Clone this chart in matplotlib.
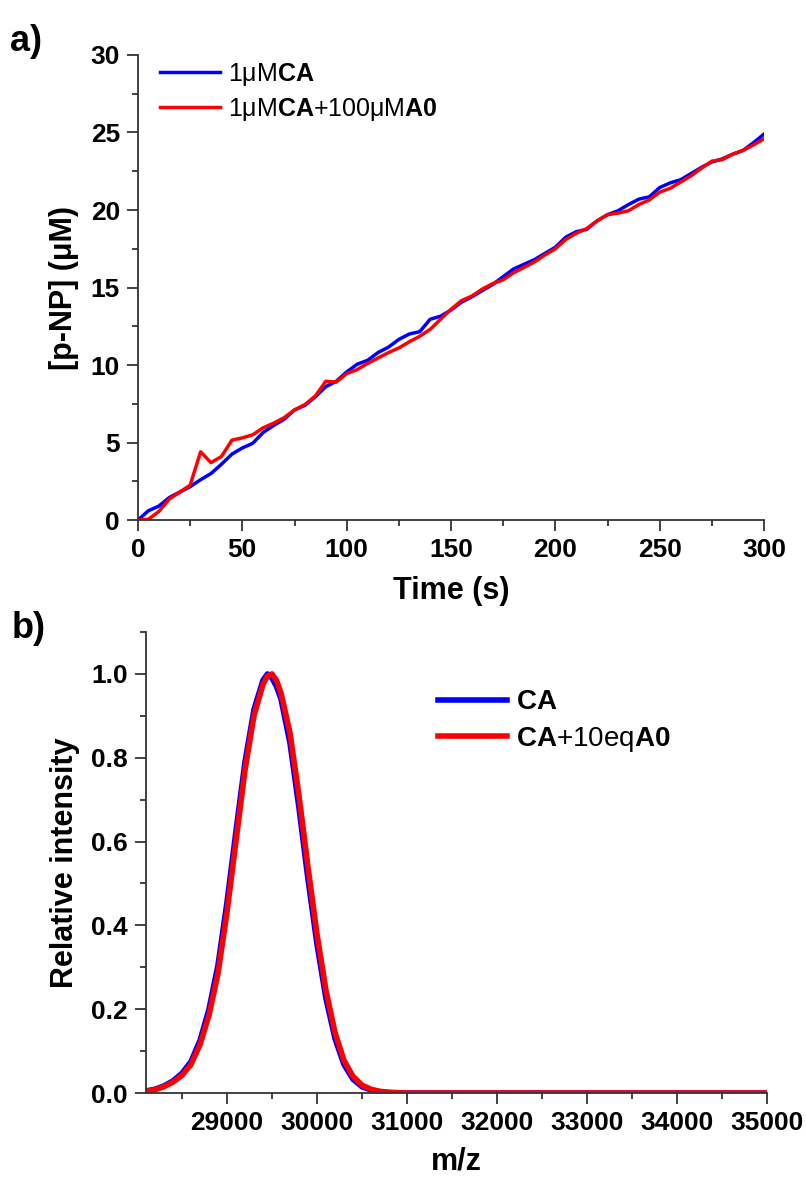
import numpy as np
import matplotlib
matplotlib.use("Agg")
import matplotlib.pyplot as plt
from matplotlib.ticker import MultipleLocator

plt.rcParams['font.family'] = ['Liberation Sans', 'DejaVu Sans']
plt.rcParams['mathtext.fontset'] = 'custom'
plt.rcParams['mathtext.rm'] = 'Liberation Sans'
plt.rcParams['mathtext.bf'] = 'Liberation Sans:bold'

# panel a: p-NP release kinetics
time_s = np.arange(0, 301, 5)
pnp_ca = [0.0, 0.6, 0.9, 1.45, 1.8, 2.15, 2.6, 3.0, 3.6, 4.25, 4.65, 4.95, 5.65, 6.1, 6.5,
          7.1, 7.4, 7.95, 8.6, 8.95, 9.55, 10.05, 10.3, 10.8, 11.15, 11.65, 12.0, 12.15,
          12.95, 13.15, 13.55, 14.05, 14.4, 14.8, 15.2, 15.7, 16.2, 16.5, 16.8, 17.2, 17.6,
          18.25, 18.6, 18.75, 19.3, 19.7, 19.95, 20.35, 20.7, 20.85, 21.45, 21.75, 21.95,
          22.35, 22.75, 23.1, 23.3, 23.6, 23.85, 24.35, 24.9]
pnp_ca_a0 = [0.0, 0.05, 0.55, 1.35, 1.8, 2.25, 4.4, 3.7, 4.1, 5.15, 5.3, 5.5, 5.95, 6.25, 6.6,
             7.1, 7.45, 8.0, 8.95, 8.9, 9.45, 9.7, 10.1, 10.45, 10.8, 11.1, 11.5, 11.85,
             12.3, 12.95, 13.6, 14.15, 14.45, 14.9, 15.25, 15.5, 15.95, 16.3, 16.65, 17.1,
             17.5, 18.1, 18.5, 18.8, 19.3, 19.7, 19.8, 19.95, 20.35, 20.65, 21.15, 21.4,
             21.8, 22.2, 22.7, 23.15, 23.25, 23.6, 23.85, 24.2, 24.6]

# panel b: deconvoluted mass spectra
mz = [28100, 28200, 28300, 28400, 28500, 28600, 28700, 28800, 28900, 29000, 29100, 29200,
      29300, 29400, 29450, 29500, 29550, 29600, 29700, 29800, 29900, 30000, 30100, 30200,
      30300, 30400, 30500, 30600, 30700, 30800, 30900, 31000, 32000, 33000, 34000, 35000]
int_ca = [0.005, 0.009, 0.017, 0.029, 0.047, 0.075, 0.125, 0.20, 0.305, 0.455, 0.625, 0.79,
          0.915, 0.985, 1.0, 0.99, 0.97, 0.94, 0.835, 0.68, 0.51, 0.355, 0.225, 0.13, 0.068,
          0.033, 0.015, 0.007, 0.003, 0.001, 0.0, 0.0, 0.0, 0.0, 0.0, 0.0]
int_ca_a0 = [0.004, 0.008, 0.015, 0.026, 0.042, 0.068, 0.115, 0.185, 0.285, 0.43, 0.60, 0.77,
             0.90, 0.975, 0.995, 1.0, 0.985, 0.955, 0.86, 0.71, 0.54, 0.38, 0.245, 0.145,
             0.078, 0.040, 0.019, 0.009, 0.004, 0.002, 0.001, 0.0, 0.0, 0.0, 0.0, 0.0]

BLUE = '#0000ff'
RED = '#ff0000'
AX_COLOR = '#333333'


def style_axes(ax):
    for side in ['top', 'right']:
        ax.spines[side].set_visible(False)
    for side in ['left', 'bottom']:
        ax.spines[side].set_linewidth(1.3)
        ax.spines[side].set_color(AX_COLOR)
    ax.tick_params(which='major', direction='out', length=8, width=1.3, color=AX_COLOR,
                   labelsize=19, pad=5)
    ax.tick_params(which='minor', direction='out', length=4.5, width=1.3, color=AX_COLOR)
    for lab in ax.get_xticklabels() + ax.get_yticklabels():
        lab.set_fontweight('bold')


fig = plt.figure(figsize=(8.06, 11.8), dpi=100)

# ---- a) ----
ax1 = fig.add_axes([0.1712, 0.5593, 0.7768, 0.3941])
ax1.plot(time_s, pnp_ca, color=BLUE, lw=2.5, label=r'1μM$\mathbf{CA}$')
ax1.plot(time_s, pnp_ca_a0, color=RED, lw=2.5, label=r'1μM$\mathbf{CA}$+100μM$\mathbf{A0}$')
ax1.set_xlim(0, 300)
ax1.set_ylim(0, 30)
ax1.xaxis.set_major_locator(MultipleLocator(50))
ax1.xaxis.set_minor_locator(MultipleLocator(25))
ax1.yaxis.set_major_locator(MultipleLocator(5))
ax1.yaxis.set_minor_locator(MultipleLocator(2.5))
style_axes(ax1)
ax1.set_xlabel('Time (s)', fontsize=22, fontweight='bold', labelpad=10)
ax1.set_ylabel('[p-NP] (μM)', fontsize=22, fontweight='bold', labelpad=8)
ax1.legend(loc='upper left', bbox_to_anchor=(0.0, 1.035), frameon=False, fontsize=18,
           handlelength=2.4, handletextpad=0.3, labelspacing=0.3)
fig.text(0.012, 0.965, 'a)', fontsize=26, fontweight='bold', va='center')

# ---- b) ----
ax2 = fig.add_axes([0.1811, 0.0737, 0.7705, 0.3907])
ax2.plot(mz, int_ca, color=BLUE, lw=4, label=r'$\mathbf{CA}$')
ax2.plot(mz, int_ca_a0, color=RED, lw=4, label=r'$\mathbf{CA}$+10eq$\mathbf{A0}$')
ax2.set_xlim(28100, 35000)
ax2.set_ylim(0, 1.1)
ax2.xaxis.set_major_locator(MultipleLocator(1000))
ax2.xaxis.set_minor_locator(MultipleLocator(500))
ax2.yaxis.set_major_locator(MultipleLocator(0.2))
ax2.yaxis.set_minor_locator(MultipleLocator(0.1))
ax2.yaxis.set_major_formatter(plt.FormatStrFormatter('%.1f'))
style_axes(ax2)
ax2.set_xlabel('m/z', fontsize=22, fontweight='bold', labelpad=8)
ax2.set_ylabel('Relative intensity', fontsize=22, fontweight='bold', labelpad=8)
ax2.legend(loc='upper left', bbox_to_anchor=(0.43, 0.93), frameon=False, fontsize=20,
           handlelength=2.5, handletextpad=0.3, labelspacing=0.35)
fig.text(0.015, 0.467, 'b)', fontsize=26, fontweight='bold', va='center')

fig.savefig('out.png', dpi=100)
